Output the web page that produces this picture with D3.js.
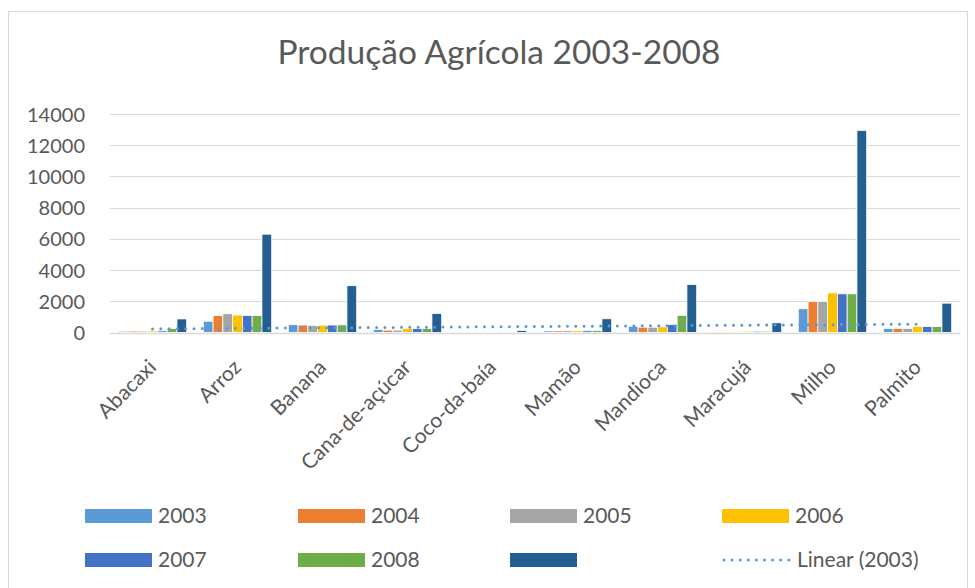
<!DOCTYPE html>
<html>
<head>
<meta charset="utf-8">
<script src="https://cdn.jsdelivr.net/npm/d3@7"></script>
<style>
  html, body { margin: 0; padding: 0; background: #fff; }
  svg { display: block; }
  text { font-family: Lato, "Open Sans", sans-serif; fill: #595959; }
</style>
</head>
<body>
<svg id="chart" width="975" height="588"></svg>
<script>
// ---- data ----
const categories = ["Abacaxi","Arroz","Banana","Cana-de-açúcar","Coco-da-baía","Mamão","Mandioca","Maracujá","Milho","Palmito"];
const seriesNames = ["2003","2004","2005","2006","2007","2008",""];
const s2003 = [80, 720, 500, 200, 20, 100, 400, 40, 1520, 260];
const s2004 = [90, 1090, 480, 150, 20, 100, 340, 40, 1990, 260];
const s2005 = [90, 1200, 460, 150, 20, 110, 340, 40, 1990, 260];
const s2006 = [100, 1120, 470, 250, 20, 110, 360, 80, 2540, 380];
const s2007 = [100, 1090, 480, 250, 20, 110, 510, 80, 2480, 380];
const s2008 = [250, 1090, 490, 250, 20, 120, 1100, 80, 2480, 380];
const s7    = [870, 6300, 3000, 1220, 130, 880, 3070, 620, 12950, 1880];
const seriesValues = [s2003, s2004, s2005, s2006, s2007, s2008, s7];
const colors = ["#5B9BD5","#ED7D31","#A5A5A5","#FFC000","#4472C4","#70AD47","#255E91"];
const yTicks = [0, 2000, 4000, 6000, 8000, 10000, 12000, 14000];
const title = "Produção Agrícola 2003-2008";
const trendLabel = "Linear (2003)";

// ---- layout ----
const svg = d3.select("#chart");
const plot = { left: 110, right: 960, top: 114, bottom: 332.5 };

// chart border
svg.append("rect").attr("x", 8.5).attr("y", 11.5).attr("width", 959).attr("height", 600)
  .attr("fill", "#fff").attr("stroke", "#d9d9d9").attr("stroke-width", 1);

const x0 = d3.scaleBand().domain(categories).range([plot.left, plot.right]).paddingInner(0).paddingOuter(0);
const x1 = d3.scaleBand().domain(d3.range(seriesValues.length)).range([0, x0.bandwidth()]).paddingInner(0).paddingOuter(0.85);
const y = d3.scaleLinear().domain([0, 14000]).range([plot.bottom, plot.top]);

// title
svg.append("text").attr("x", 499).attr("y", 64).attr("text-anchor", "middle")
  .attr("font-size", 33.5).text(title);

// gridlines
svg.append("g").selectAll("line").data(yTicks).join("line")
  .attr("x1", plot.left).attr("x2", plot.right)
  .attr("y1", d => Math.round(y(d)) + 0.5).attr("y2", d => Math.round(y(d)) + 0.5)
  .attr("stroke", "#d9d9d9").attr("stroke-width", d => d === 0 ? 1.5 : 1);

// y axis labels
const yAxis = d3.axisLeft(y).tickValues(yTicks).tickSize(0).tickPadding(0).tickFormat(d3.format("d"));
const gy = svg.append("g").attr("transform", `translate(${plot.left - 25},0)`).call(yAxis);
gy.select(".domain").remove();
gy.selectAll("text").attr("font-size", 20).attr("fill", "#595959")
  .style("font-family", "Lato, 'Open Sans', sans-serif").attr("dy", "0.35em");

// bars
const groups = svg.append("g").selectAll("g").data(seriesValues).join("g")
  .attr("fill", (d, i) => colors[i]);
groups.selectAll("rect").data((vals, si) => vals.map((v, ci) => ({ v, ci, si }))).join("rect")
  .attr("x", d => x0(categories[d.ci]) + x1(d.si))
  .attr("width", x1.bandwidth())
  .attr("y", d => y(d.v))
  .attr("height", d => y(0) - y(d.v))
  .attr("stroke", "#fff").attr("stroke-width", 0.8);

// trendline (linear regression of 2003 series over category index)
const n = s2003.length;
const xs = d3.range(1, n + 1);
const mx = d3.mean(xs), my = d3.mean(s2003);
const slope = d3.sum(xs.map((xv, i) => (xv - mx) * (s2003[i] - my))) / d3.sum(xs.map(xv => (xv - mx) ** 2));
const intercept = my - slope * mx;
const trendPts = categories.map((c, i) => ({ c, v: intercept + slope * (i + 1) }));
const line = d3.line().x(d => x0(d.c) + x0.bandwidth() / 2).y(d => y(d.v));
svg.append("path").datum([trendPts[0], trendPts[n - 1]]).attr("d", line)
  .attr("fill", "none").attr("stroke", "#5B9BD5").attr("stroke-width", 3)
  .attr("stroke-linecap", "round").attr("stroke-dasharray", "0 8.3");

// x labels
svg.append("g").selectAll("text").data(categories).join("text")
  .attr("text-anchor", "end")
  .attr("font-size", 21)
  .attr("transform", d => `translate(${x0(d) + x0.bandwidth() / 2 + 5},${plot.bottom + 36}) rotate(-45)`)
  .text(d => d);

// legend
const legendItems = seriesNames.map((s, i) => ({ name: s, color: colors[i], type: "bar" }));
legendItems.push({ name: trendLabel, color: "#5B9BD5", type: "trend" });
const colX = [85, 298, 510, 722];
const rowY = [516, 560];
const lg = svg.append("g").selectAll("g").data(legendItems).join("g")
  .attr("transform", (d, i) => `translate(${colX[i % 4]},${rowY[Math.floor(i / 4)]})`);
lg.filter(d => d.type === "bar").append("rect")
  .attr("x", 0).attr("y", -7).attr("width", 67).attr("height", 14).attr("fill", d => d.color);
lg.filter(d => d.type === "trend").append("line")
  .attr("x1", 2).attr("x2", 67).attr("y1", 0).attr("y2", 0)
  .attr("stroke", d => d.color).attr("stroke-width", 3)
  .attr("stroke-linecap", "round").attr("stroke-dasharray", "0 8.1");
lg.append("text").attr("x", d => d.type === "trend" ? 75 : 73).attr("y", 0).attr("dy", "0.35em")
  .attr("font-size", 21).text(d => d.name);
</script>
</body>
</html>
